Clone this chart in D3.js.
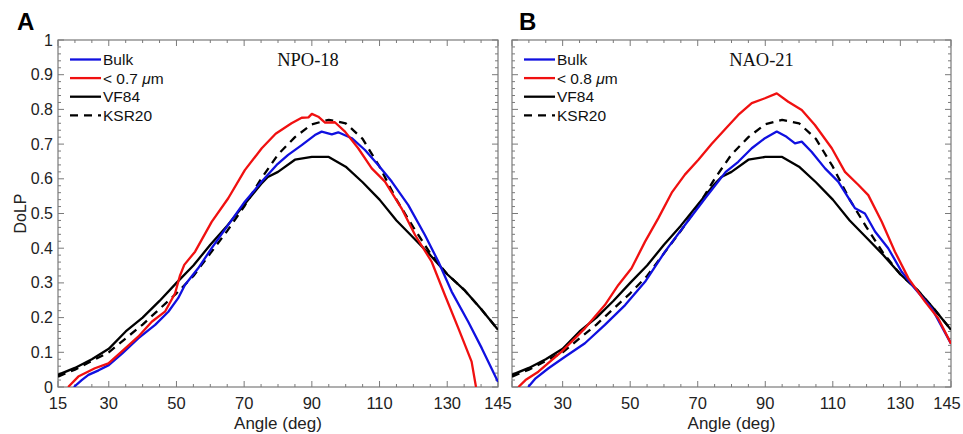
<!DOCTYPE html>
<html>
<head>
<script src="https://d3js.org/d3.v7.min.js"></script>
<style>
  body { margin: 0; background: #fff; }
  text { font-family: "Liberation Sans", Arial, sans-serif; }
</style>
</head>
<body>
<div id="viz"></div>
<script>
// reference models (same in both panels)
var vf84 = [[15,0.035],[20,0.055],[25,0.08],[30,0.11],[35,0.16],[40,0.2],[45,0.248],[50,0.3],[55,0.35],
  [60,0.41],[65,0.465],[70,0.525],[75,0.585],[77,0.605],[80,0.62],[85,0.655],[90,0.663],[95,0.663],
  [100,0.635],[105,0.59],[110,0.54],[115,0.48],[120,0.43],[125,0.38],[130,0.325],[135,0.28],[140,0.225],[145,0.165]];
var ksr20 = [[15,0.03],[20,0.05],[25,0.075],[30,0.1],[35,0.14],[40,0.18],[45,0.225],[50,0.27],[55,0.32],
  [60,0.385],[65,0.45],[70,0.52],[75,0.6],[80,0.67],[85,0.72],[90,0.757],[95,0.77],[100,0.76],[105,0.715],
  [110,0.635],[115,0.54],[120,0.46],[125,0.385],[130,0.325],[135,0.28],[140,0.225],[145,0.165]];

// NPO-18
var bulkA = [[19.7,0],[22,0.02],[24,0.035],[27,0.048],[30,0.063],[34,0.097],[38.7,0.14],[43.7,0.179],
  [47.6,0.217],[50.5,0.256],[52.5,0.294],[56.4,0.342],[60.4,0.4],[65.3,0.467],[70.2,0.534],[75.2,0.592],
  [79.6,0.64],[83,0.669],[87,0.697],[90.9,0.726],[92.9,0.736],[95.9,0.728],[97.8,0.734],[101.8,0.717],
  [105.7,0.683],[109.6,0.64],[113.6,0.592],[118.5,0.524],[123.4,0.438],[127.4,0.361],[131.3,0.275],
  [136.2,0.188],[140.2,0.112],[145,0.015]];
var fineA = [[18,0],[21,0.03],[25.9,0.054],[29.9,0.068],[33.8,0.102],[38.7,0.145],[42.7,0.188],[46.6,0.217],
  [49.6,0.27],[51,0.32],[52.3,0.352],[55.5,0.39],[60.4,0.476],[65.3,0.544],[70.2,0.625],[75.2,0.688],[79.3,0.73],
  [84,0.76],[87,0.776],[89,0.777],[90,0.787],[91.9,0.779],[93.9,0.762],[96.8,0.763],[99.8,0.736],
  [103.7,0.688],[107.7,0.63],[111.6,0.592],[116.5,0.515],[120.5,0.438],[125.4,0.361],[129.3,0.265],
  [133.3,0.169],[137.2,0.073],[138.5,0]];

// NAO-21
var bulkB = [[19.8,0],[22,0.025],[25.8,0.054],[30.7,0.087],[36.6,0.126],[42.5,0.179],[48.5,0.236],
  [54.4,0.303],[60.3,0.39],[66.2,0.467],[72.2,0.544],[78.3,0.62],[82,0.649],[86,0.688],[89.9,0.717],
  [93.4,0.736],[96.3,0.721],[98.8,0.702],[100.8,0.707],[103.7,0.678],[107.7,0.63],[111.6,0.592],
  [116.6,0.515],[119.5,0.5],[122.5,0.448],[126.4,0.4],[130.4,0.332],[134.3,0.284],[139.3,0.227],[145,0.125]];
var fineB = [[16.9,0],[19,0.02],[22.8,0.044],[29.7,0.102],[36.6,0.169],[42.5,0.236],[46.5,0.294],
  [50.4,0.342],[54.4,0.419],[58.3,0.486],[62.3,0.56],[66.2,0.612],[70.2,0.655],[74.1,0.7],[78.3,0.745],
  [82,0.784],[86,0.818],[89.9,0.832],[93.4,0.846],[96.8,0.822],[100.8,0.798],[104.7,0.755],[109.7,0.688],
  [113.6,0.62],[117.6,0.582],[120.5,0.553],[124.5,0.476],[128.4,0.39],[132.4,0.313],[137.3,0.246],
  [141.2,0.198],[145,0.125]];

var xTickLabels = [15, 30, 50, 70, 90, 110, 130, 145];
var yTickLabels = [0, 0.1, 0.2, 0.3, 0.4, 0.5, 0.6, 0.7, 0.8, 0.9, 1];

var panels = [
  {letter: "A", title: "NPO-18", fineLabel: "0.7", left: 58, right: 498, bulk: bulkA, fine: fineA, yLabels: true, first15: true},
  {letter: "B", title: "NAO-21", fineLabel: "0.8", left: 512, right: 951, bulk: bulkB, fine: fineB, yLabels: false, first15: false}
];

var W = 963, H = 434, plotTop = 40, plotBottom = 387;
var gray = "#7a7a7a";

var svg = d3.select("#viz").append("svg").attr("width", W).attr("height", H);

var y = d3.scaleLinear().domain([0, 1]).range([plotBottom, plotTop]);

panels.forEach(function(p, idx) {
  var x = d3.scaleLinear().domain([15, 145]).range([p.left, p.right]);
  var g = svg.append("g");

  g.append("clipPath").attr("id", "clip" + idx)
    .append("rect").attr("x", p.left).attr("y", plotTop).attr("width", p.right - p.left).attr("height", plotBottom - plotTop);

  // minor + major ticks
  var minorX = d3.range(15, 146, 5), minorY = d3.range(0, 1.001, 0.02);
  minorX.forEach(function(v) {
    var len = xTickLabels.indexOf(v) >= 0 ? 6 : 3;
    g.append("line").attr("x1", x(v)).attr("x2", x(v)).attr("y1", plotBottom).attr("y2", plotBottom - len).attr("stroke", gray);
    g.append("line").attr("x1", x(v)).attr("x2", x(v)).attr("y1", plotTop).attr("y2", plotTop + len).attr("stroke", gray);
  });
  minorY.forEach(function(v, i) {
    var len = i % 5 == 0 ? 6 : 3;
    g.append("line").attr("x1", p.left).attr("x2", p.left + len).attr("y1", y(v)).attr("y2", y(v)).attr("stroke", gray);
    g.append("line").attr("x1", p.right).attr("x2", p.right - len).attr("y1", y(v)).attr("y2", y(v)).attr("stroke", gray);
  });

  g.append("rect").attr("x", p.left).attr("y", plotTop).attr("width", p.right - p.left).attr("height", plotBottom - plotTop)
    .attr("fill", "none").attr("stroke", gray).attr("stroke-width", 1.2);

  // tick labels (keep the last one inside the window)
  g.selectAll(".xl").data(xTickLabels.filter(function(d) { return p.first15 || d != 15; }))
    .enter().append("text")
    .attr("x", function(d) { return Math.min(x(d), W - 16); }).attr("y", 409)
    .attr("text-anchor", "middle").attr("font-size", 16.5).attr("fill", "#222")
    .text(function(d) { return d; });
  if (p.yLabels) {
    g.selectAll(".yl").data(yTickLabels).enter().append("text")
      .attr("x", p.left - 5).attr("y", function(d) { return y(d) + 5.5; })
      .attr("text-anchor", "end").attr("font-size", 16).attr("fill", "#222")
      .text(function(d) { return d; });
    g.append("text").attr("transform", "translate(26," + (y(0.5)) + ") rotate(-90)")
      .attr("text-anchor", "middle").attr("font-size", 16).attr("fill", "#222").text("DoLP");
  }
  g.append("text").attr("x", (p.left + p.right) / 2).attr("y", 429)
    .attr("text-anchor", "middle").attr("font-size", 17).attr("fill", "#222").text("Angle (deg)");

  g.append("text").attr("x", idx ? 519 : 17).attr("y", 30)
    .attr("font-size", 24).attr("font-weight", "bold").attr("fill", "#000").text(p.letter);

  g.append("text").attr("x", (p.left + p.right) / 2 + 30).attr("y", 66)
    .attr("text-anchor", "middle").attr("font-size", 18.5)
    .style("font-family", "'Liberation Serif', 'Times New Roman', serif").attr("fill", "#111").text(p.title);

  // curves
  var line = d3.line().x(function(d) { return x(d[0]); }).y(function(d) { return y(d[1]); });
  var series = [
    {data: vf84, color: "#000", dash: null},
    {data: ksr20, color: "#000", dash: "8,6"},
    {data: p.bulk, color: "#1010e0", dash: null},
    {data: p.fine, color: "#f01010", dash: null}
  ];
  var cg = g.append("g").attr("clip-path", "url(#clip" + idx + ")");
  series.forEach(function(s) {
    cg.append("path").attr("d", line(s.data)).attr("fill", "none")
      .attr("stroke", s.color).attr("stroke-width", 2.3)
      .attr("stroke-linejoin", "round")
      .attr("stroke-dasharray", s.dash);
  });

  // legend
  var lx = p.left + 12;
  var legend = [
    {label: "Bulk", color: "#1010e0", dash: null},
    {label: "fine", color: "#f01010", dash: null},
    {label: "VF84", color: "#000", dash: null},
    {label: "KSR20", color: "#000", dash: "8,6"}
  ];
  legend.forEach(function(l, i) {
    var ly = 59.5 + i * 18.6;
    g.append("line").attr("x1", lx).attr("x2", lx + 31).attr("y1", ly).attr("y2", ly)
      .attr("stroke", l.color).attr("stroke-width", 2.3).attr("stroke-dasharray", l.dash);
    var t = g.append("text").attr("x", lx + 33).attr("y", ly + 5.5).attr("font-size", 15.5).attr("fill", "#111");
    if (l.label == "fine") {
      t.append("tspan").text("< " + p.fineLabel + " ");
      t.append("tspan").attr("font-style", "italic").text("\u03bc");
      t.append("tspan").text("m");
    } else {
      t.text(l.label);
    }
  });
});
</script>
</body>
</html>
